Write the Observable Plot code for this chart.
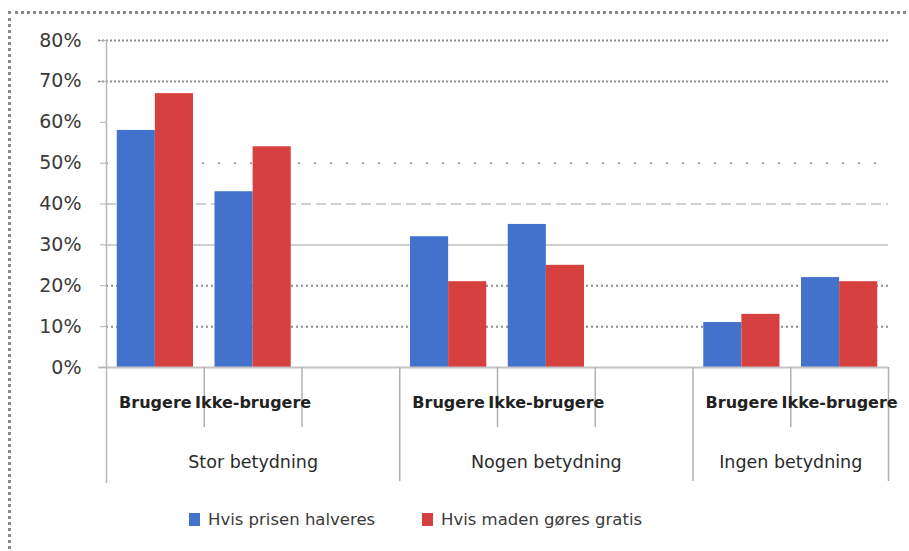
<!DOCTYPE html>
<html>
<head>
<meta charset="utf-8">
<script src="https://cdn.jsdelivr.net/npm/d3@7"></script>
<script src="https://cdn.jsdelivr.net/npm/@observablehq/plot@0.6"></script>
<style>
  html, body { margin: 0; padding: 0; background: #fff; }
  #wrap { position: relative; width: 909px; height: 551px; overflow: hidden; font-family: "DejaVu Sans", sans-serif; }
  #frame { position: absolute; left: 8px; top: 11px; right: -10px; bottom: -10px; border-top: 3px dotted #8a8a8a; border-left: 3px dotted #8a8a8a; pointer-events: none; }
  #chart { position: absolute; left: 0; top: 0; }
  #legend { position: absolute; left: 0; top: 500px; width: 909px; height: 51px; }
  .item { position: absolute; top: 10px; display: flex; align-items: center; font-size: 16.5px; color: #3a3a3a; white-space: nowrap; }
  .sw { display: inline-block; width: 11px; height: 13px; margin-right: 8px; }
</style>
</head>
<body>
<div id="wrap">
  <div id="chart"></div>
  <div id="legend"></div>
  <div id="frame"></div>
</div>
<script>
// ---- data ----
const groups = ["Stor betydning", "Nogen betydning", "Ingen betydning"];
const slotsPerGroup = [3, 3, 2];           // category slots on the axis (incl. empty ones)
const subgroups = ["Brugere", "Ikke-brugere"];
const series = ["Hvis prisen halveres", "Hvis maden gøres gratis"];
const halveres = [58, 43, 32, 35, 11, 22]; // per group: Brugere, Ikke-brugere
const gratis   = [67, 54, 21, 25, 13, 21];
const yTicks = [0, 10, 20, 30, 40, 50, 60, 70, 80];

const colors = ["#4272cc", "#d6403e"];

// ---- derived tables ----
const groupStart = slotsPerGroup.map((n, i) => d3.sum(slotsPerGroup.slice(0, i)));
const nSlots = d3.sum(slotsPerGroup);
const pad = 0.11, bw = 0.39;
const bars = [];
const subLabels = [];
groups.forEach((g, gi) => {
  subgroups.forEach((s, si) => {
    const slot = groupStart[gi] + si;
    subLabels.push({x: slot + 0.5, text: s});
    [halveres, gratis].forEach((arr, k) => {
      bars.push({group: g, sub: s, series: series[k], value: arr[gi * 2 + si],
                 x1: slot + pad + k * bw, x2: slot + pad + (k + 1) * bw});
    });
  });
});
const groupLabels = groups.map((g, gi) => ({x: groupStart[gi] + slotsPerGroup[gi] / 2, text: g}));
const majorTicks = [...groupStart, nSlots];
const minorTicks = d3.range(nSlots + 1).filter(i => !majorTicks.includes(i));

const W = 909, H = 500, mL = 106, mR = 21, mT = 40, mB = 133;
const plotH = H - mT - mB;

const chart = Plot.plot({
  width: W, height: H,
  marginLeft: mL, marginRight: mR, marginTop: mT, marginBottom: mB,
  style: {fontFamily: "'DejaVu Sans', sans-serif", background: "transparent", overflow: "visible"},
  x: {domain: [0, nSlots], axis: null},
  y: {domain: [0, 80], axis: null},
  color: {domain: series, range: colors},
  marks: [
    // gridlines (mimicking the mixed dotted/dashed look of the original)
    Plot.ruleY([80, 70], {stroke: "#8c8c8c", strokeWidth: 2, strokeDasharray: "2,2", insetLeft: -8}),
    Plot.ruleY([50], {stroke: "#a0a0a0", strokeWidth: 2, strokeDasharray: "2,14"}),
    Plot.ruleY([40], {stroke: "#cfcfcf", strokeWidth: 2, strokeDasharray: "10,5"}),
    Plot.ruleY([30], {stroke: "#cfcfcf", strokeWidth: 2}),
    Plot.ruleY([20, 10], {stroke: "#8c8c8c", strokeWidth: 2, strokeDasharray: "2,3"}),
    // bars
    Plot.rectY(bars, {x1: "x1", x2: "x2", y: "value", fill: "series"}),
    // axis lines
    Plot.ruleY([0], {stroke: "#c4c4c4", strokeWidth: 2, insetLeft: -8}),
    Plot.ruleX([0], {stroke: "#b8b8b8", strokeWidth: 1.5, insetBottom: -116}),
    Plot.ruleX(majorTicks.slice(1), {stroke: "#b0b0b0", strokeWidth: 1.5, insetTop: plotH, insetBottom: -114}),
    Plot.ruleX(minorTicks, {stroke: "#b0b0b0", strokeWidth: 1.5, insetTop: plotH, insetBottom: -60}),
    // y axis
    Plot.axisY(yTicks, {tickFormat: d => d + "%", tickSize: 6, tickPadding: 19, label: null,
      stroke: "#b0b0b0", fill: "#3a3a3a", fontSize: 19}),
    // category labels
    Plot.text(subLabels, {x: "x", text: "text", frameAnchor: "bottom", dy: 40,
      fontSize: 16, fontWeight: "bold", fill: "#222"}),
    Plot.text(groupLabels, {x: "x", text: "text", frameAnchor: "bottom", dy: 100,
      fontSize: 17.5, fill: "#2a2a2a"})
  ]
});
document.getElementById("chart").appendChild(chart);

// legend
const legend = document.getElementById("legend");
const legendLeft = [189, 422];
series.forEach((s, i) => {
  const it = document.createElement("div");
  it.className = "item";
  it.style.left = legendLeft[i] + "px";
  const sw = document.createElement("span");
  sw.className = "sw";
  sw.style.background = colors[i];
  it.appendChild(sw);
  it.appendChild(document.createTextNode(s));
  legend.appendChild(it);
});
</script>
</body>
</html>
